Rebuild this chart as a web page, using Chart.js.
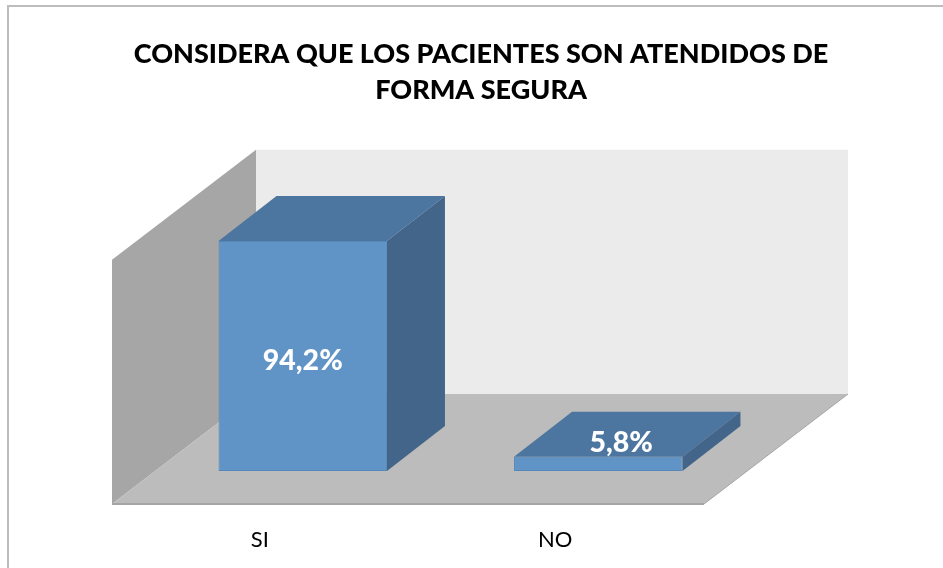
<!DOCTYPE html>
<html>
<head>
<meta charset="utf-8">
<style>
  html, body { margin: 0; padding: 0; background: #fff; overflow: hidden; }
  canvas { display: block; }
</style>
<script src="https://cdn.jsdelivr.net/npm/chart.js@4"></script>
</head>
<body>
<canvas id="chart" width="943" height="568"></canvas>
<script>
const titleLines = ['CONSIDERA QUE LOS PACIENTES SON ATENDIDOS DE', 'FORMA SEGURA'];
const categories = ['SI', 'NO'];
const values = [94.2, 5.8];

const FONT = 'Lato, "Open Sans", sans-serif';
// 3D look: the bars sit part way into the box
const DEPTH_X = 144, DEPTH_Y = 110;   // whole box
const BAR_DX = 58, BAR_DY = 45;       // bar depth
const FRONT_DX = 43, FRONT_DY = 33;   // bar front -> box front

function poly(ctx, color, pts) {
  ctx.fillStyle = color;
  ctx.beginPath();
  pts.forEach(([x, y], i) => (i ? ctx.lineTo(x, y) : ctx.moveTo(x, y)));
  ctx.closePath();
  ctx.fill();
}

const boxPlugin = {
  id: 'box3d',
  beforeDraw(chart) {
    const { ctx } = chart;
    ctx.save();
    ctx.fillStyle = '#bdbdbd';
    ctx.fillRect(7, 5, 936, 2);
    ctx.fillRect(7, 5, 2, 563);
    ctx.restore();
  },
  beforeDatasetsDraw(chart) {
    const { ctx, chartArea, scales } = chart;
    const left = chartArea.left - FRONT_DX;
    const right = chartArea.right - FRONT_DX + 1;
    const bottom = scales.y.getPixelForValue(0) + FRONT_DY;
    const top = scales.y.getPixelForValue(100) + FRONT_DY;

    ctx.save();
    poly(ctx, '#ebebeb', [[left + DEPTH_X, top - DEPTH_Y], [right + DEPTH_X, top - DEPTH_Y], [right + DEPTH_X, bottom - DEPTH_Y], [left + DEPTH_X, bottom - DEPTH_Y]]);
    poly(ctx, '#a6a6a6', [[left, top], [left + DEPTH_X, top - DEPTH_Y], [left + DEPTH_X, bottom - DEPTH_Y], [left, bottom]]);
    poly(ctx, '#bcbcbc', [[left, bottom], [left + DEPTH_X, bottom - DEPTH_Y], [right + DEPTH_X, bottom - DEPTH_Y], [right, bottom]]);
    ctx.strokeStyle = '#a5a5a5';
    ctx.lineWidth = 2;
    ctx.beginPath();
    ctx.moveTo(left, bottom);
    ctx.lineTo(right, bottom);
    ctx.stroke();
    ctx.lineWidth = 1;
    ctx.beginPath();
    ctx.moveTo(right, bottom);
    ctx.lineTo(right + DEPTH_X, bottom - DEPTH_Y);
    ctx.stroke();

    chart.getDatasetMeta(0).data.forEach((bar) => {
      const x0 = bar.x - bar.width / 2;
      const x1 = bar.x + bar.width / 2;
      poly(ctx, '#4c76a0', [[x0, bar.y], [x0 + BAR_DX, bar.y - BAR_DY], [x1 + BAR_DX, bar.y - BAR_DY], [x1, bar.y]]);
      poly(ctx, '#426589', [[x1, bar.y], [x1 + BAR_DX, bar.y - BAR_DY], [x1 + BAR_DX, bar.base - BAR_DY], [x1, bar.base]]);
    });
    ctx.restore();
  },
  afterDatasetsDraw(chart) {
    const { ctx } = chart;
    const bars = chart.getDatasetMeta(0).data;
    ctx.save();
    ctx.font = '900 28.5px ' + FONT;
    ctx.fillStyle = '#ffffff';
    ctx.textAlign = 'center';
    ctx.textBaseline = 'middle';
    values.forEach((v, i) => {
      const bar = bars[i];
      const text = v.toFixed(1).replace('.', ',') + '%';
      // tall bar: label on the front face, short bar: label on the top face
      if (bar.base - bar.y > 60) ctx.fillText(text, bar.x, (bar.y + bar.base) / 2 + 5);
      else ctx.fillText(text, bar.x + 23, bar.y - 14);
    });
    ctx.restore();
  },
};

const hiddenAxis = (position, width) => ({
  position,
  min: 0,
  max: 100,
  grid: { display: false },
  border: { display: false },
  ticks: { display: false },
  afterFit(scale) { scale.width = width; },
});

new Chart(document.getElementById('chart'), {
  type: 'bar',
  data: {
    labels: categories,
    datasets: [{
      data: values,
      backgroundColor: '#6094c6',
      borderColor: '#5587b8',
      borderWidth: 1,
      borderSkipped: false,
      barPercentage: 0.57,
      categoryPercentage: 1,
    }],
  },
  plugins: [boxPlugin],
  options: {
    responsive: false,
    animation: false,
    // title centres between the paddings, the two axes push the plot into place
    layout: { padding: { left: 120, right: 101, top: 0, bottom: 0 } },
    plugins: {
      legend: { display: false },
      tooltip: { enabled: false },
      title: {
        display: true,
        text: titleLines,
        color: '#000000',
        font: { family: FONT, size: 27, weight: 900, lineHeight: 1.33 },
        padding: { top: 36, bottom: 119 },
      },
    },
    scales: {
      x: {
        grid: { display: false },
        border: { display: false },
        ticks: {
          color: '#000000',
          font: { family: FONT, size: 22 },
          padding: 48,
          labelOffset: -FRONT_DX,
          maxRotation: 0,
        },
        afterFit(scale) { scale.height = 97; },
      },
      y: hiddenAxis('left', 35),
      yRight: hiddenAxis('right', 96),
    },
  },
});
</script>
</body>
</html>
